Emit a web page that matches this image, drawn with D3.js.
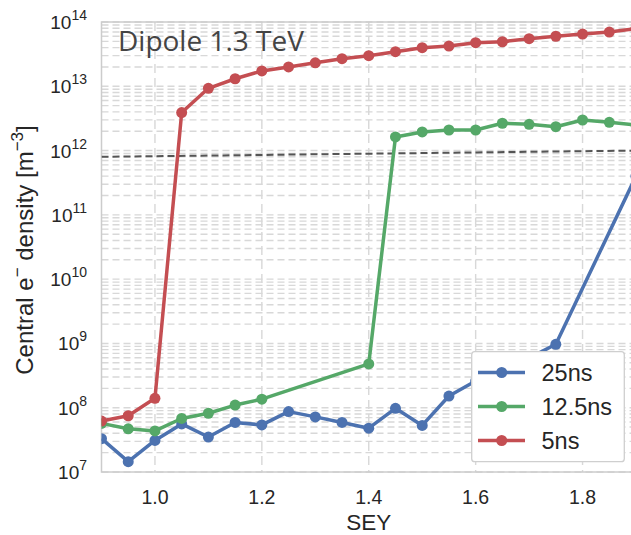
<!DOCTYPE html>
<html>
<head>
<meta charset="utf-8">
<script src="https://cdn.jsdelivr.net/npm/d3@7"></script>
<style>
  html, body { margin: 0; padding: 0; background: #fff; }
  svg { display: block; }
  text { font-family: "Liberation Sans", Arial, sans-serif; }
</style>
</head>
<body>
<svg id="chart" width="631" height="535"></svg>
<script>
// SEY scan: central electron density for three bunch spacings
const sey25 = [0.9, 0.95, 1.0, 1.05, 1.1, 1.15, 1.2, 1.25, 1.3, 1.35, 1.4, 1.45, 1.5, 1.55, 1.6, 1.65, 1.7, 1.75, 1.9];
const dens25 = [3.3e7, 1.45e7, 3.1e7, 5.6e7, 3.5e7, 5.9e7, 5.4e7, 8.7e7, 7.2e7, 5.9e7, 4.8e7, 9.8e7, 5.3e7, 1.52e8, 2.6e8, 4.0e8, 5.9e8, 9.7e8, 4.0e11];

const sey125 = [0.9, 0.95, 1.0, 1.05, 1.1, 1.15, 1.2, 1.4, 1.45, 1.5, 1.55, 1.6, 1.65, 1.7, 1.75, 1.8, 1.85, 1.9];
const dens125 = [5.7e7, 4.7e7, 4.35e7, 6.8e7, 8.2e7, 1.1e8, 1.36e8, 4.8e8, 1.63e12, 1.95e12, 2.09e12, 2.09e12, 2.66e12, 2.56e12, 2.35e12, 2.99e12, 2.75e12, 2.5e12];

const sey5 = [0.9, 0.95, 1.0, 1.05, 1.1, 1.15, 1.2, 1.25, 1.3, 1.35, 1.4, 1.45, 1.5, 1.55, 1.6, 1.65, 1.7, 1.75, 1.8, 1.85, 1.9];
const dens5 = [6.2e7, 7.5e7, 1.4e8, 3.9e12, 9.3e12, 1.31e13, 1.73e13, 2.0e13, 2.32e13, 2.69e13, 2.99e13, 3.45e13, 3.98e13, 4.23e13, 4.76e13, 4.93e13, 5.5e13, 6.0e13, 6.5e13, 6.98e13, 7.9e13];

// Reference density level (dashed)
const refSey = [0.9, 1.9];
const refDens = [8.0e11, 1.0e12];

const seriesNames = ["25ns", "12.5ns", "5ns"];
const seriesColors = ["#4C72B0", "#55A868", "#C44E52"];

const xTicks = [1.0, 1.2, 1.4, 1.6, 1.8];
const yTickExps = [7, 8, 9, 10, 11, 12, 13, 14];

const svg = d3.select("#chart");
const plotL = 101.5, plotR = 636, plotT = 22, plotB = 472;

const x = d3.scaleLinear().domain([0.9, 1.9]).range([plotL, plotR]);
const y = d3.scaleLog().domain([1e7, 1e14]).range([plotB, plotT]);

svg.append("defs").append("clipPath").attr("id", "plotclip")
  .append("rect").attr("x", plotL).attr("y", plotT - 8)
  .attr("width", plotR - plotL + 10).attr("height", plotB - plotT + 16);

// Plot background
svg.append("rect").attr("x", plotL).attr("y", plotT)
  .attr("width", plotR - plotL).attr("height", plotB - plotT).attr("fill", "#fff");

// Grid: minor + major horizontal lines on the log axis
const grid = svg.append("g").attr("stroke", "#d8d8d8").attr("stroke-width", 1.4)
  .attr("stroke-dasharray", "7,4").attr("fill", "none");
const hLines = [];
for (let e = 7; e < 14; e++) {
  for (let m = 1; m <= 9; m++) hLines.push(m * Math.pow(10, e));
}
hLines.push(1e14);
grid.selectAll("line.h").data(hLines).join("line").attr("class", "h")
  .attr("x1", plotL).attr("x2", plotR)
  .attr("y1", d => y(d)).attr("y2", d => y(d));
grid.selectAll("line.v").data(xTicks).join("line").attr("class", "v")
  .attr("x1", d => x(d)).attr("x2", d => x(d))
  .attr("y1", plotT).attr("y2", plotB)
  .attr("stroke-dasharray", "9,5");

// Axis frame
svg.append("rect").attr("x", plotL).attr("y", plotT)
  .attr("width", plotR - plotL).attr("height", plotB - plotT)
  .attr("fill", "none").attr("stroke", "#cccccc").attr("stroke-width", 1.5);

// Title inside the axes
svg.append("text").attr("x", 118).attr("y", 51)
  .style("font-family", "'Open Sans', 'Noto Sans', sans-serif")
  .attr("font-size", 28).attr("fill", "#444")
  .text("Dipole 1.3 TeV");

const plot = svg.append("g").attr("clip-path", "url(#plotclip)");

// Reference dashed line
const line = d3.line().x(d => x(d[0])).y(d => y(d[1]));
plot.append("path")
  .datum(refSey.map((s, i) => [s, refDens[i]]))
  .attr("d", line).attr("fill", "none")
  .attr("stroke", "#555").attr("stroke-width", 2).attr("stroke-dasharray", "7,4");

const series = [
  { sey: sey25, dens: dens25 },
  { sey: sey125, dens: dens125 },
  { sey: sey5, dens: dens5 }
];
series.forEach((s, i) => {
  const pts = s.sey.map((v, j) => [v, s.dens[j]]);
  const g = plot.append("g");
  g.append("path").datum(pts).attr("d", line).attr("fill", "none")
    .attr("stroke", seriesColors[i]).attr("stroke-width", 3.5)
    .attr("stroke-linejoin", "round");
  g.selectAll("circle").data(pts).join("circle")
    .attr("cx", d => x(d[0])).attr("cy", d => y(d[1])).attr("r", 5.5)
    .attr("fill", seriesColors[i]);
});

// Y tick labels (powers of ten)
const yl = svg.append("g").attr("fill", "#262626");
yTickExps.forEach(e => {
  const t = yl.append("text").attr("x", 87).attr("y", y(Math.pow(10, e)) + 7)
    .attr("text-anchor", "end").attr("font-size", 19);
  t.append("tspan").text("10");
  t.append("tspan").attr("font-size", 14).attr("dy", -9).text(String(e));
});

// X tick labels
svg.append("g").selectAll("text").data(xTicks).join("text")
  .attr("x", d => x(d)).attr("y", 504).attr("text-anchor", "middle")
  .attr("font-size", 19.5).attr("fill", "#262626")
  .text(d => d.toFixed(1));

// Axis labels
svg.append("text").attr("x", x(1.4)).attr("y", 530).attr("text-anchor", "middle")
  .attr("font-size", 22.5).attr("fill", "#262626").text("SEY");

const ylab = svg.append("text")
  .attr("transform", "translate(33,250) rotate(-90)")
  .attr("text-anchor", "middle").attr("font-size", 24).attr("fill", "#262626");
ylab.append("tspan").text("Central e");
ylab.append("tspan").attr("font-size", 17).attr("dy", -10).text("\u2212");
ylab.append("tspan").attr("dy", 10).text(" density [m");
ylab.append("tspan").attr("font-size", 17).attr("dy", -10).text("\u22123");
ylab.append("tspan").attr("dy", 10).text("]");

// Legend
const lg = svg.append("g");
lg.append("rect").attr("x", 471.7).attr("y", 351.7).attr("width", 152.6).attr("height", 110)
  .attr("rx", 3).attr("fill", "#fff").attr("stroke", "#cfcfcf").attr("stroke-width", 1.3);
seriesNames.forEach((name, i) => {
  const cy = 372.5 + i * 34;
  lg.append("line").attr("x1", 478).attr("x2", 525).attr("y1", cy).attr("y2", cy)
    .attr("stroke", seriesColors[i]).attr("stroke-width", 3.5);
  lg.append("circle").attr("cx", 501.7).attr("cy", cy).attr("r", 5.5).attr("fill", seriesColors[i]);
  lg.append("text").attr("x", 541.5).attr("y", cy + 8.5).attr("font-size", 23.5)
    .attr("fill", "#262626").text(name);
});
</script>
</body>
</html>
